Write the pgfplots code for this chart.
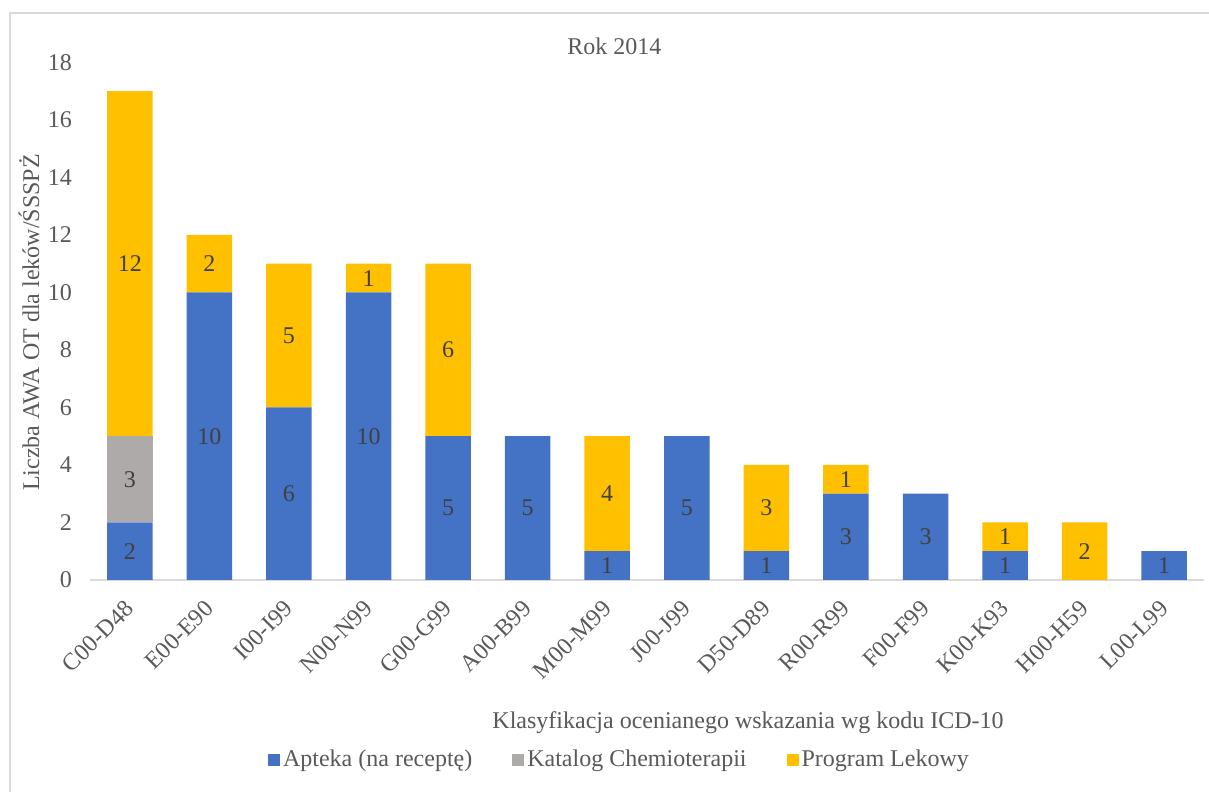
\documentclass[border=0pt]{standalone}
\usepackage{fontspec}
\setmainfont{Liberation Serif}
\usepackage{pgfplots}
\pgfplotsset{compat=1.18}
\definecolor{cBlue}{HTML}{4472C4}
\definecolor{cGray}{RGB}{173,170,169}
\definecolor{cYel}{HTML}{FFC000}
\definecolor{cTxt}{HTML}{595959}
\definecolor{cLab}{HTML}{404040}
\definecolor{cLine}{HTML}{D9D9D9}
\pgfplotsset{
  base/.style={
    scale only axis, width=557pt, height=258.75pt,
    at={(45pt,106pt)}, anchor=south west,
    xmin=-0.5, xmax=13.5, ymin=0, ymax=18,
  }
}
\begin{document}
\begin{tikzpicture}[font=\fontsize{12}{14.4}\selectfont]
\useasboundingbox (0,0) rectangle (604.5pt,396pt);
\draw[cLine, line width=0.9pt] (5pt,0) -- (5pt,389.5pt) -- (604.5pt,389.5pt);
\begin{axis}[base,
  ybar stacked, bar width=22.75pt,
  axis x line*=bottom, axis y line*=left,
  x axis line style={draw=cLine, line width=0.9pt, -},
  y axis line style={draw=none},
  major tick length=0pt,
  xtick={0,...,13},
  xticklabels={C00-D48,E00-E90,I00-I99,N00-N99,G00-G99,A00-B99,M00-M99,J00-J99,D50-D89,R00-R99,F00-F99,K00-K93,H00-H59,L00-L99},
  xticklabel style={xshift=-3pt, yshift=-4.5pt, rotate=45, anchor=north east, text=cTxt},
  ytick={0,2,...,18},
  yticklabel style={text=cTxt, xshift=-5.5pt},
  /pgf/number format/assume math mode=true,
  title={Rok 2014},
  title style={at={(axis description cs:0.4708,1.031)}, anchor=center, yshift=-6pt, text=cTxt},
  ylabel={Liczba AWA OT dla leków/ŚSSPŻ},
  ylabel style={at={(axis description cs:-0.0548,0.4976)}, anchor=center, text=cTxt},
  xlabel={Klasyfikacja ocenianego wskazania wg kodu ICD-10},
  xlabel style={at={(axis description cs:0.5907,-0.2879)}, anchor=base, text=cTxt},
  legend style={at={(axis description cs:0.4744,-0.3478)}, anchor=center, draw=none,
    fill=none, legend columns=3, text=cTxt,
    /tikz/every odd column/.append style={column sep=1.5pt},
    /tikz/every even column/.append style={column sep=20pt},
    nodes={inner xsep=0pt}},
  legend image code/.code={\fill[#1] (0pt,-3pt) rectangle (6pt,3pt);},
]
\addplot[fill=cBlue, draw=none] coordinates {(0,2)(1,10)(2,6)(3,10)(4,5)(5,5)(6,1)(7,5)(8,1)(9,3)(10,3)(11,1)(12,0)(13,1)};
\addlegendentry{Apteka (na receptę)}
\addplot[fill=cGray, draw=none] coordinates {(0,3)(1,0)(2,0)(3,0)(4,0)(5,0)(6,0)(7,0)(8,0)(9,0)(10,0)(11,0)(12,0)(13,0)};
\addlegendentry{Katalog Chemioterapii}
\addplot[fill=cYel, draw=none] coordinates {(0,12)(1,2)(2,5)(3,1)(4,6)(5,0)(6,4)(7,0)(8,3)(9,1)(10,0)(11,1)(12,2)(13,0)};
\addlegendentry{Program Lekowy}
\end{axis}
\begin{axis}[base, hide axis]
\addplot[draw=none, mark=none, nodes near coords, point meta=explicit symbolic,
  every node near coord/.append style={anchor=center, text=cLab}]
  coordinates {
  (0,1)[2] (1,5)[10] (2,3)[6] (3,5)[10] (4,2.5)[5] (5,2.5)[5] (6,0.5)[1] (7,2.5)[5]
  (8,0.5)[1] (9,1.5)[3] (10,1.5)[3] (11,0.5)[1] (13,0.5)[1]
  (0,3.5)[3]
  (0,11)[12] (1,11)[2] (2,8.5)[5] (3,10.5)[1] (4,8)[6] (6,3)[4] (8,2.5)[3]
  (9,3.5)[1] (11,1.5)[1] (12,1)[2]
  };
\end{axis}
\end{tikzpicture}
\end{document}
